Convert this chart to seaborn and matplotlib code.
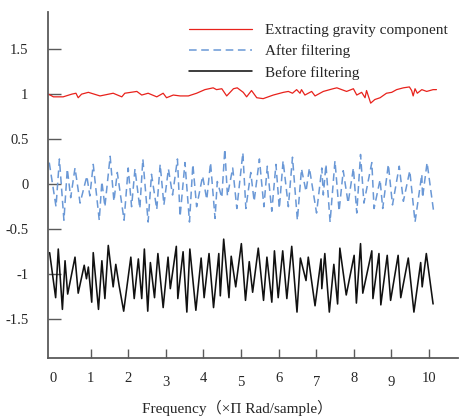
import matplotlib
matplotlib.use("Agg")
import matplotlib.pyplot as plt
import seaborn as sns

# values (peaks / troughs of each trace)
gravity_x = [-0.12, 0.01, 0.27, 0.50, 0.61, 0.67, 0.76, 0.94, 1.25, 1.60, 1.83, 1.91, 2.23, 2.36,
             2.53, 2.76, 2.93, 3.02, 3.20, 3.38, 3.60, 3.82, 4.04, 4.26, 4.35, 4.49, 4.62, 4.80,
             4.90, 5.06, 5.15, 5.28, 5.42, 5.59, 5.86, 6.13, 6.26, 6.37, 6.48, 6.57, 6.61, 6.70,
             6.88, 6.97, 7.19, 7.45, 7.55, 7.81, 7.99, 8.08, 8.21, 8.30, 8.34, 8.45, 8.56, 8.70,
             8.87, 9.01, 9.14, 9.32, 9.48, 9.54, 9.58, 9.63, 9.69, 9.81, 9.94, 10.11, 10.20]
gravity_y = [1.00, 0.97, 0.97, 1.00, 1.01, 0.96, 1.00, 1.02, 0.98, 1.01, 0.97, 1.01, 1.03, 0.99,
             1.01, 0.97, 1.01, 0.96, 0.99, 0.98, 0.98, 1.01, 1.05, 1.07, 1.05, 1.06, 0.98, 1.06,
             1.07, 1.02, 0.97, 1.04, 0.96, 0.95, 0.99, 1.02, 1.03, 1.01, 1.05, 1.01, 1.05, 0.99,
             1.03, 0.98, 1.03, 1.06, 1.07, 1.03, 1.06, 0.99, 1.02, 0.96, 1.04, 0.90, 0.94, 0.96,
             1.01, 1.02, 1.05, 1.07, 1.08, 1.04, 0.98, 1.06, 1.01, 1.05, 1.03, 1.05, 1.05]

after_x = [-0.10, 0.08, 0.17, 0.29, 0.38, 0.47, 0.585, 0.72, 0.90, 0.98, 1.07, 1.23, 1.30, 1.38,
           1.52, 1.62, 1.71, 1.89, 2.00, 2.09, 2.18, 2.31, 2.39, 2.53, 2.62, 2.76, 2.85, 2.95,
           3.07, 3.18, 3.31, 3.38, 3.51, 3.63, 3.72, 3.82, 3.98, 4.09, 4.19, 4.31, 4.37, 4.49,
           4.57, 4.64, 4.78, 4.89, 5.05, 5.13, 5.26, 5.35, 5.49, 5.61, 5.70, 5.82, 5.93, 6.02,
           6.12, 6.26, 6.37, 6.50, 6.61, 6.73, 6.82, 7.01, 7.15, 7.19, 7.26, 7.37, 7.50, 7.61,
           7.72, 7.85, 7.99, 8.08, 8.18, 8.27, 8.48, 8.54, 8.70, 8.77, 8.92, 9.03, 9.21, 9.32,
           9.49, 9.63, 9.81, 9.83, 9.95, 10.13]
after_y = [0.24, -0.25, 0.28, -0.40, 0.17, -0.15, 0.18, -0.21, 0.09, -0.13, 0.22, -0.40, 0.03, -0.25,
           0.31, -0.19, 0.13, -0.40, 0.18, -0.25, 0.17, -0.27, 0.28, -0.42, 0.11, -0.28, 0.22, -0.23,
           0.17, -0.12, 0.28, -0.36, 0.24, -0.42, 0.22, -0.25, 0.09, -0.17, 0.24, -0.38, 0.03, -0.15,
           0.39, -0.13, 0.18, -0.27, 0.35, -0.27, 0.13, -0.19, 0.28, -0.25, 0.20, -0.30, 0.22, -0.27,
           0.26, -0.25, 0.30, -0.40, 0.17, -0.08, 0.18, -0.32, 0.18, -0.12, 0.22, -0.42, 0.26, -0.30,
           0.15, -0.21, 0.18, -0.32, 0.33, -0.21, 0.24, -0.27, 0.05, -0.27, 0.22, -0.23, 0.20, -0.19,
           0.15, -0.42, 0.11, -0.15, 0.24, -0.32]

before_x = [-0.09, 0.07, 0.14, 0.25, 0.32, 0.39, 0.585, 0.67, 0.83, 0.89, 0.94, 1.03, 1.07, 1.21,
            1.30, 1.38, 1.47, 1.60, 1.67, 1.76, 1.88, 2.07, 2.16, 2.27, 2.36, 2.43, 2.52, 2.59,
            2.70, 2.79, 2.93, 3.06, 3.12, 3.28, 3.32, 3.46, 3.56, 3.64, 3.80, 3.94, 4.02, 4.15,
            4.27, 4.41, 4.45, 4.54, 4.68, 4.74, 4.86, 5.01, 5.12, 5.22, 5.31, 5.46, 5.60, 5.69,
            5.82, 5.89, 5.99, 6.11, 6.22, 6.35, 6.49, 6.58, 6.73, 6.79, 6.97, 7.13, 7.15, 7.23,
            7.35, 7.47, 7.57, 7.63, 7.80, 8.01, 8.07, 8.18, 8.24, 8.48, 8.51, 8.67, 8.72, 8.89,
            8.98, 9.18, 9.25, 9.45, 9.60, 9.78, 9.82, 9.93, 10.11]
before_y = [-0.76, -1.26, -0.72, -1.39, -0.85, -1.22, -0.81, -1.21, -0.90, -1.05, -0.92, -1.31, -0.76, -1.39,
            -0.85, -1.27, -0.68, -1.14, -0.89, -1.13, -1.41, -0.81, -1.27, -0.83, -1.27, -0.72, -1.41, -0.87,
            -1.26, -0.77, -1.37, -0.81, -1.16, -0.69, -1.27, -0.75, -1.42, -0.72, -1.40, -0.82, -1.26, -0.77,
            -1.37, -0.77, -1.24, -0.61, -1.26, -0.80, -1.14, -0.66, -1.29, -0.86, -1.20, -0.71, -1.29, -0.81,
            -1.31, -0.74, -1.26, -0.74, -1.27, -0.69, -1.42, -0.82, -1.07, -0.81, -1.35, -0.83, -1.16, -0.77,
            -1.42, -0.89, -1.33, -0.71, -1.23, -0.79, -1.32, -0.66, -1.21, -0.74, -1.27, -0.77, -1.34, -0.79,
            -1.29, -0.79, -1.26, -0.82, -1.42, -0.87, -1.14, -0.77, -1.33]

x_ticks = [0, 1, 2, 3, 4, 5, 6, 7, 8, 9, 10]
y_ticks = [1.5, 1, 0.5, 0, -0.5, -1, -1.5]
y_tick_labels = ["1.5", "1", "0.5", "0", "-0.5", "-1", "-1.5"]

sns.set_style("white")
plt.rcParams["font.family"] = ["Liberation Serif", "Noto Sans CJK SC"]

fig = plt.figure(figsize=(4.59, 4.2), dpi=100)
ax = fig.add_axes([0.1046, 0.1476, 0.893, 0.8234])

sns.lineplot(x=gravity_x, y=gravity_y, ax=ax, color="#e8221c", linewidth=0.9,
             sort=False, estimator=None, label="Extracting gravity component")
sns.lineplot(x=after_x, y=after_y, ax=ax, color="#6a98d6", linewidth=1.1,
             sort=False, estimator=None, linestyle=(0, (5, 3)), label="After filtering")
sns.lineplot(x=before_x, y=before_y, ax=ax, color="#111111", linewidth=1.15,
             sort=False, estimator=None, label="Before filtering")

ax.set_xlim(-0.133, 10.77)
ax.set_ylim(-1.93, 1.91)

ax.set_xticks(x_ticks)
ax.set_xticklabels([str(t) for t in x_ticks])
ax.set_yticks(y_ticks)
ax.set_yticklabels(y_tick_labels)

for side in ["top", "right"]:
    ax.spines[side].set_visible(False)
for side in ["left", "bottom"]:
    ax.spines[side].set_color("#5a5a5a")
    ax.spines[side].set_linewidth(1.3)

ax.tick_params(axis="y", direction="in", length=9.5, width=1.0, color="#5a5a5a",
               pad=14, labelsize=10.5, left=True)
ax.tick_params(axis="x", direction="in", length=6.5, width=1.0, color="#5a5a5a",
               pad=10, labelsize=10.5, bottom=True)

# odd labels sit a little lower in the reference
ticks = ax.xaxis.get_major_ticks()
ticks[0].tick1line.set_visible(False)
for i in [3, 5, 7, 9]:
    ticks[i].set_pad(13)

ax.set_xlabel("Frequency（×Π Rad/sample）", fontsize=11)
ax.xaxis.set_label_coords(0.461, -0.12)
ax.set_ylabel("")

ax.legend(loc="upper left", bbox_to_anchor=(0.344, 0.968), frameon=False,
          handlelength=4.1, handletextpad=0.85, labelspacing=0.5, borderpad=0,
          borderaxespad=0, fontsize=11)

fig.savefig("out.png", dpi=100)
